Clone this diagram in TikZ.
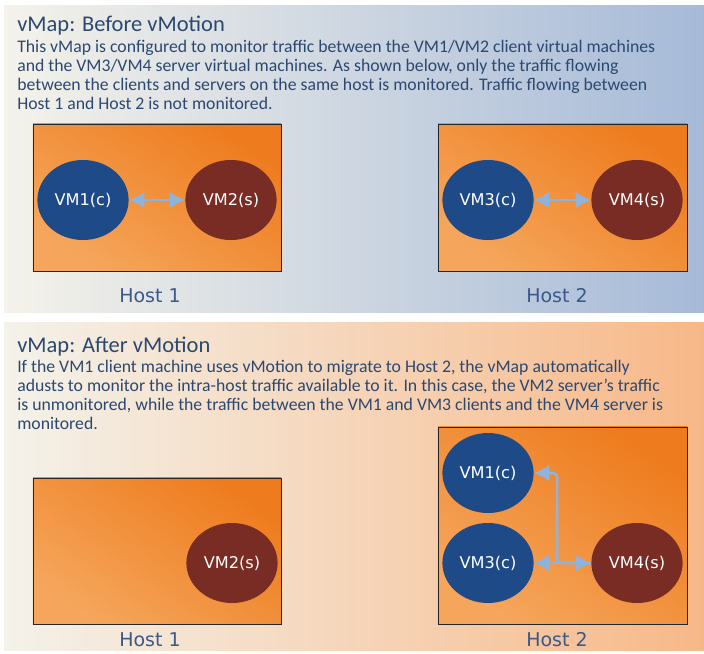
\documentclass[tikz,border=0pt]{standalone}
\usepackage{fontspec}
\setmainfont{Carlito}
\newfontfamily\vmfont{DejaVu Sans}
\usetikzlibrary{shapes.geometric,positioning,arrows.meta}
\definecolor{textblue}{RGB}{44,72,112}
\definecolor{hostblue}{RGB}{58,88,136}
\definecolor{vmblue}{RGB}{30,74,136}
\definecolor{vmred}{RGB}{120,44,36}
\definecolor{hostdark}{RGB}{238,124,30}
\definecolor{hostlight}{RGB}{245,166,92}
\definecolor{linkblue}{RGB}{142,180,222}
\definecolor{bgcream}{RGB}{244,242,234}
\definecolor{bgsteel}{RGB}{166,186,216}
\definecolor{bgpeach}{RGB}{247,184,136}

\begin{document}
\begin{tikzpicture}[x=0.025cm, y=-0.025cm,
    vm/.style={ellipse, minimum width=2.28cm, minimum height=2cm, inner sep=0pt,
        text=white, font=\vmfont\fontsize{11.5}{14}\selectfont},
    client/.style={vm, fill=vmblue},
    server/.style={vm, fill=vmred},
    hostbox/.style={draw=black!85, line width=0.6pt, inner sep=0pt,
        top color=hostdark, bottom color=hostlight, shading angle=-35},
    hostlbl/.style={text=hostblue, font=\vmfont\fontsize{13.5}{16}\selectfont},
    tip/.style={-{Latex[length=11pt,width=12pt]}},
    link/.style={linkblue, line width=1.9pt, {Latex[length=11pt,width=12pt]}-{Latex[length=11pt,width=12pt]}},
    title/.style={anchor=north west, inner sep=0pt, text=textblue, font=\fontsize{16}{18}\selectfont},
    body/.style={anchor=north west, text=textblue, align=left, inner sep=0pt,
        font=\fontsize{12.6}{13.6}\selectfont}
]
    \useasboundingbox (0,0) rectangle (704,653);

    % Fondos
    \shade[left color=bgcream, right color=bgsteel] (4,5) rectangle (704,312);
    \shade[left color=bgcream, right color=bgpeach] (4,322) rectangle (704,650);

    % Antes de vMotion
    \node[title] (titleA) at (17,16) {vMap: Before vMotion};
    \node[body] (bodyA) at (17,40) {This vMap is configured to monitor traffic between the VM1/VM2 client virtual machines\\
        and the VM3/VM4 server virtual machines. As shown below, only the traffic flowing\\
        between the clients and servers on the same host is monitored. Traffic flowing between\\
        Host 1 and Host 2 is not monitored.};

    \node[hostbox, minimum width=6.2cm, minimum height=3.675cm] (hostA1) at (157,197.5) {};
    \node[hostbox, minimum width=6.225cm, minimum height=3.675cm] (hostA2) at (562.5,197.5) {};
    \node[hostlbl] (lblA1) at (150,296) {Host 1};
    \node[hostlbl] (lblA2) at (557,296) {Host 2};

    \node[client] (vm1a) at (83,200) {VM1(c)};
    \node[server] (vm2a) at (231,200) {VM2(s)};
    \node[client] (vm3a) at (488,200) {VM3(c)};
    \node[server] (vm4a) at (637,200) {VM4(s)};

    \draw[link] (vm1a) -- (vm2a);
    \draw[link] (vm3a) -- (vm4a);

    % Despues de vMotion
    \node[title] (titleB) at (17,337) {vMap: After vMotion};
    \node[body] (bodyB) at (17,360) {If the VM1 client machine uses vMotion to migrate to Host 2, the vMap automatically\\
        adusts to monitor the intra-host traffic available to it. In this case, the VM2 server's traffic\\
        is unmonitored, while the traffic between the VM1 and VM3 clients and the VM4 server is\\
        monitored.};

    \node[hostbox, minimum width=6.2cm, minimum height=3.65cm] (hostB1) at (157,551) {};
    \node[hostbox, minimum width=6.225cm, minimum height=4.925cm] (hostB2) at (562.5,525.5) {};
    \node[hostlbl] (lblB1) at (150,640) {Host 1};
    \node[hostlbl] (lblB2) at (557,640) {Host 2};

    \node[server] (vm2b) at (232,563) {VM2(s)};
    \node[client] (vm1b) at (488,473) {VM1(c)};
    \node[client] (vm3b) at (488,563) {VM3(c)};
    \node[server] (vm4b) at (637,563) {VM4(s)};

    \draw[link] (vm3b) -- (vm4b);
    \draw[link, tip, rounded corners=3pt] (vm4b.west) -- ++(-34,0) |- (vm1b.east);
\end{tikzpicture}
\end{document}
